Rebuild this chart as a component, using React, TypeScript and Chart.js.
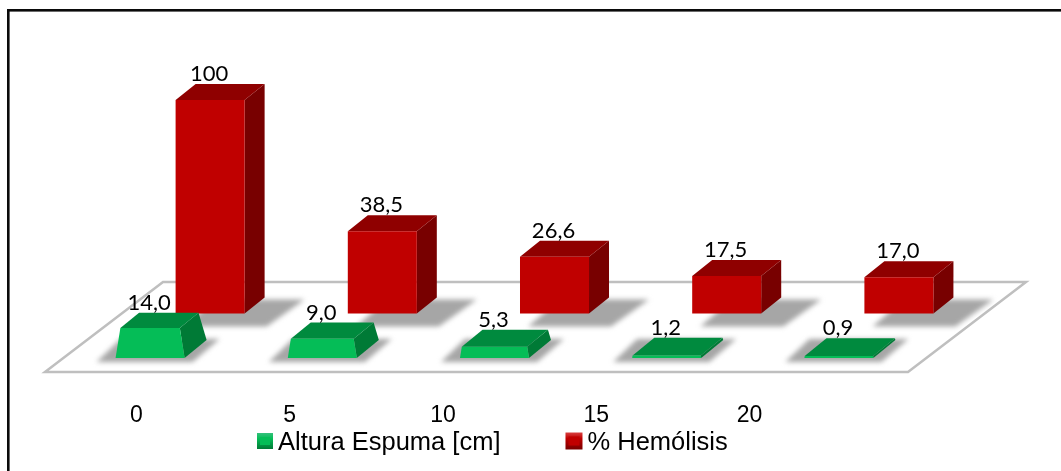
import { useEffect, useRef } from "react";
import { Chart, BarController, BarElement, registerables } from "chart.js";

const categories = ["0", "5", "10", "15", "20"];
const tickValues = [0, 5, 10, 15, 20];
const alturaEspuma = [14.0, 9.0, 5.3, 1.2, 0.9];
const hemolisis = [100, 38.5, 26.6, 17.5, 17.0];

const LABEL_FONT = "Lato";
const AXIS_FONT = "'Liberation Sans'";

type Pt = [number, number];

function quad(ctx: CanvasRenderingContext2D, pts: Pt[], fill: string) {
  ctx.beginPath();
  pts.forEach(([x, y], i) => (i ? ctx.lineTo(x, y) : ctx.moveTo(x, y)));
  ctx.closePath();
  ctx.fillStyle = fill;
  ctx.fill();
}

// A bar drawn as a box standing on the floor, optionally tapering towards its top.
class Box3D extends BarElement {
  static id = "box3d";
  static defaults = {
    topColor: "#000",
    sideColor: "#000",
    shadowColor: "#a6a6a6",
    depthX: 20,
    depthY: 16,
    taper: 0,
    depthTaper: 0,
    shadowNear: 10,
    shadowFar: 14,
    shadowNearLeft: 0,
    shadowNearRight: 0,
    shadowFarRight: 0,
    shadowFarLeft: 0,
  };

  topBackY() {
    const { y, base } = (this as any).getProps(["y", "base"], true);
    const o = (this as any).options;
    const h = base - y;
    return y - o.depthY * (1 - o.depthTaper * h);
  }

  draw(ctx: CanvasRenderingContext2D) {
    const { x, y, base, width } = (this as any).getProps(["x", "y", "base", "width"], true);
    const o = (this as any).options;
    const l = x - width / 2;
    const r = x + width / 2;
    const h = base - y;
    const inset = o.taper * h;
    const k = 1 - o.depthTaper * h;
    const dx = o.depthX;
    const dy = o.depthY;

    ctx.save();
    ctx.filter = "blur(2.5px)";
    quad(
      ctx,
      [
        [l + o.shadowNearLeft, base + o.shadowNear],
        [r + o.shadowNearRight, base + o.shadowNear],
        [r + o.shadowFarRight, base - o.shadowFar],
        [l + o.shadowFarLeft, base - o.shadowFar],
      ],
      o.shadowColor
    );
    ctx.restore();

    const ftl: Pt = [l + inset, y];
    const ftr: Pt = [r - inset, y];
    const btl: Pt = [l + inset + dx * k, y - dy * k];
    const btr: Pt = [r - inset + dx * k, y - dy * k];

    quad(ctx, [ftr, btr, [r + dx, base - dy], [r, base]], o.sideColor);
    quad(ctx, [ftl, ftr, btr, btl], o.topColor);
    quad(ctx, [[l, base], [r, base], ftr, ftl], o.backgroundColor);
  }
}

class Box3DController extends BarController {
  static id = "box3d";
  static defaults = { ...BarController.defaults, dataElementType: "box3d" };
}

Chart.register(...registerables, Box3D, Box3DController);

const formatValue = (v: number) => (v >= 100 ? String(v) : v.toFixed(1).replace(".", ","));

// White floor plane the boxes stand on, placed relative to the two baselines.
const floorPlugin = {
  id: "floor",
  beforeDatasetsDraw(chart: any) {
    const { ctx, chartArea: a, scales } = chart;
    const front = scales.y.getPixelForValue(0) + 14;
    const back = scales.yBack.getPixelForValue(0) - 31.5;
    ctx.save();
    ctx.beginPath();
    ctx.moveTo(a.left - 49, front);
    ctx.lineTo(a.left + 69, back);
    ctx.lineTo(a.right + 71, back);
    ctx.lineTo(a.right - 47, front);
    ctx.closePath();
    ctx.fillStyle = "#ffffff";
    ctx.fill();
    ctx.strokeStyle = "#bfbfbf";
    ctx.lineWidth = 2.5;
    ctx.stroke();
    ctx.restore();
  },
};

const valueLabelPlugin = {
  id: "valueLabels",
  afterDatasetsDraw(chart: any) {
    const { ctx } = chart;
    ctx.save();
    ctx.font = `22px ${LABEL_FONT}`;
    ctx.fillStyle = "#000";
    ctx.textAlign = "center";
    ctx.textBaseline = "middle";
    chart.data.datasets.forEach((ds: any, i: number) => {
      chart.getDatasetMeta(i).data.forEach((el: any, j: number) => {
        ctx.fillText(formatValue(ds.data[j]), el.x - 1, el.topBackY() - 10);
      });
    });
    ctx.restore();
  },
};

// Page frame: only the top and left rules are drawn.
const framePlugin = {
  id: "frame",
  beforeDraw(chart: any) {
    const { ctx, width, height } = chart;
    ctx.save();
    ctx.fillStyle = "#0a0a0a";
    ctx.fillRect(7, 9, width - 7, 2.6);
    ctx.fillRect(7, 9, 2.6, height - 9);
    ctx.restore();
  },
};

const legendPlugin = {
  id: "boxLegend",
  afterDraw(chart: any) {
    const { ctx } = chart;
    const size = [16, 17];
    const yMid = 441;
    let x = 257;
    ctx.save();
    ctx.font = `25.5px ${AXIS_FONT}`;
    ctx.textBaseline = "middle";
    chart.data.datasets.forEach((ds: any, i: number) => {
      const s = size[i];
      const top = yMid - s / 2;
      const g = ctx.createLinearGradient(0, top, 0, top + s);
      g.addColorStop(0, ds.legendLight);
      g.addColorStop(0.35, ds.backgroundColor);
      g.addColorStop(1, ds.sideColor);
      ctx.fillStyle = g;
      ctx.fillRect(x, top, s, s);
      ctx.fillStyle = ds.backgroundColor;
      ctx.fillRect(x + 3, top + 4, s - 6, s - 8);
      ctx.fillStyle = "#000";
      const tx = x + s + 5;
      ctx.fillText(ds.label, tx, yMid + 2);
      x = tx + ctx.measureText(ds.label).width + 65;
    });
    ctx.restore();
  },
};

export default function App() {
  const ref = useRef<HTMLCanvasElement | null>(null);

  useEffect(() => {
    if (!ref.current) return;
    const chart = new Chart(ref.current, {
      type: "box3d" as any,
      data: {
        labels: categories,
        datasets: [
          {
            label: "Altura Espuma [cm]",
            data: alturaEspuma,
            yAxisID: "y",
            backgroundColor: "#05bd57",
            topColor: "#008a3e",
            sideColor: "#007a36",
            legendLight: "#35c07c",
            depthX: 22,
            depthY: 18,
            taper: 0.16,
            depthTaper: 0.005,
            shadowNear: 4,
            shadowFar: 19,
            shadowNearLeft: -19,
            shadowNearRight: 8,
            shadowFarRight: 35,
            shadowFarLeft: 5,
          },
          {
            label: "% Hemólisis",
            data: hemolisis,
            yAxisID: "yBack",
            backgroundColor: "#c00000",
            topColor: "#8f0000",
            sideColor: "#780000",
            legendLight: "#d84040",
            depthX: 20,
            depthY: 16,
            shadowNear: 13,
            shadowFar: 14,
            shadowNearLeft: 8,
            shadowNearRight: 22,
            shadowFarRight: 60,
            shadowFarLeft: 40,
          },
        ] as any,
      },
      options: {
        animation: false,
        responsive: false,
        categoryPercentage: 0.697,
        barPercentage: 1.15,
        clip: false,
        layout: { padding: { left: 94, right: 106, top: 40, bottom: 0 } },
        plugins: { legend: { display: false }, tooltip: { enabled: false } },
        scales: {
          x: { type: "category", display: false, offset: true },
          xTicks: {
            type: "linear",
            position: "bottom",
            offset: false,
            min: -1.383,
            max: 26.7,
            grid: { display: false, drawTicks: false },
            border: { display: false },
            afterBuildTicks(axis: any) {
              axis.ticks = tickValues.map((value) => ({ value }));
            },
            afterFit(axis: any) {
              axis.height = 113;
            },
            ticks: {
              color: "#000",
              padding: 44,
              maxRotation: 0,
              font: { family: "Liberation Sans", size: 23 },
              callback: (v: any) => String(v),
            },
          },
          y: { type: "linear", display: false, min: 0, max: 148.9 },
          yBack: { type: "linear", display: false, min: -20.84, max: 128.06 },
        },
      } as any,
      plugins: [framePlugin, floorPlugin, valueLabelPlugin, legendPlugin],
    });
    return () => chart.destroy();
  }, []);

  return (
    <div style={{ position: "absolute", left: 0, top: 0, width: 1061, height: 471 }}>
      <canvas ref={ref} width={1061} height={471} style={{ display: "block" }} />
    </div>
  );
}
